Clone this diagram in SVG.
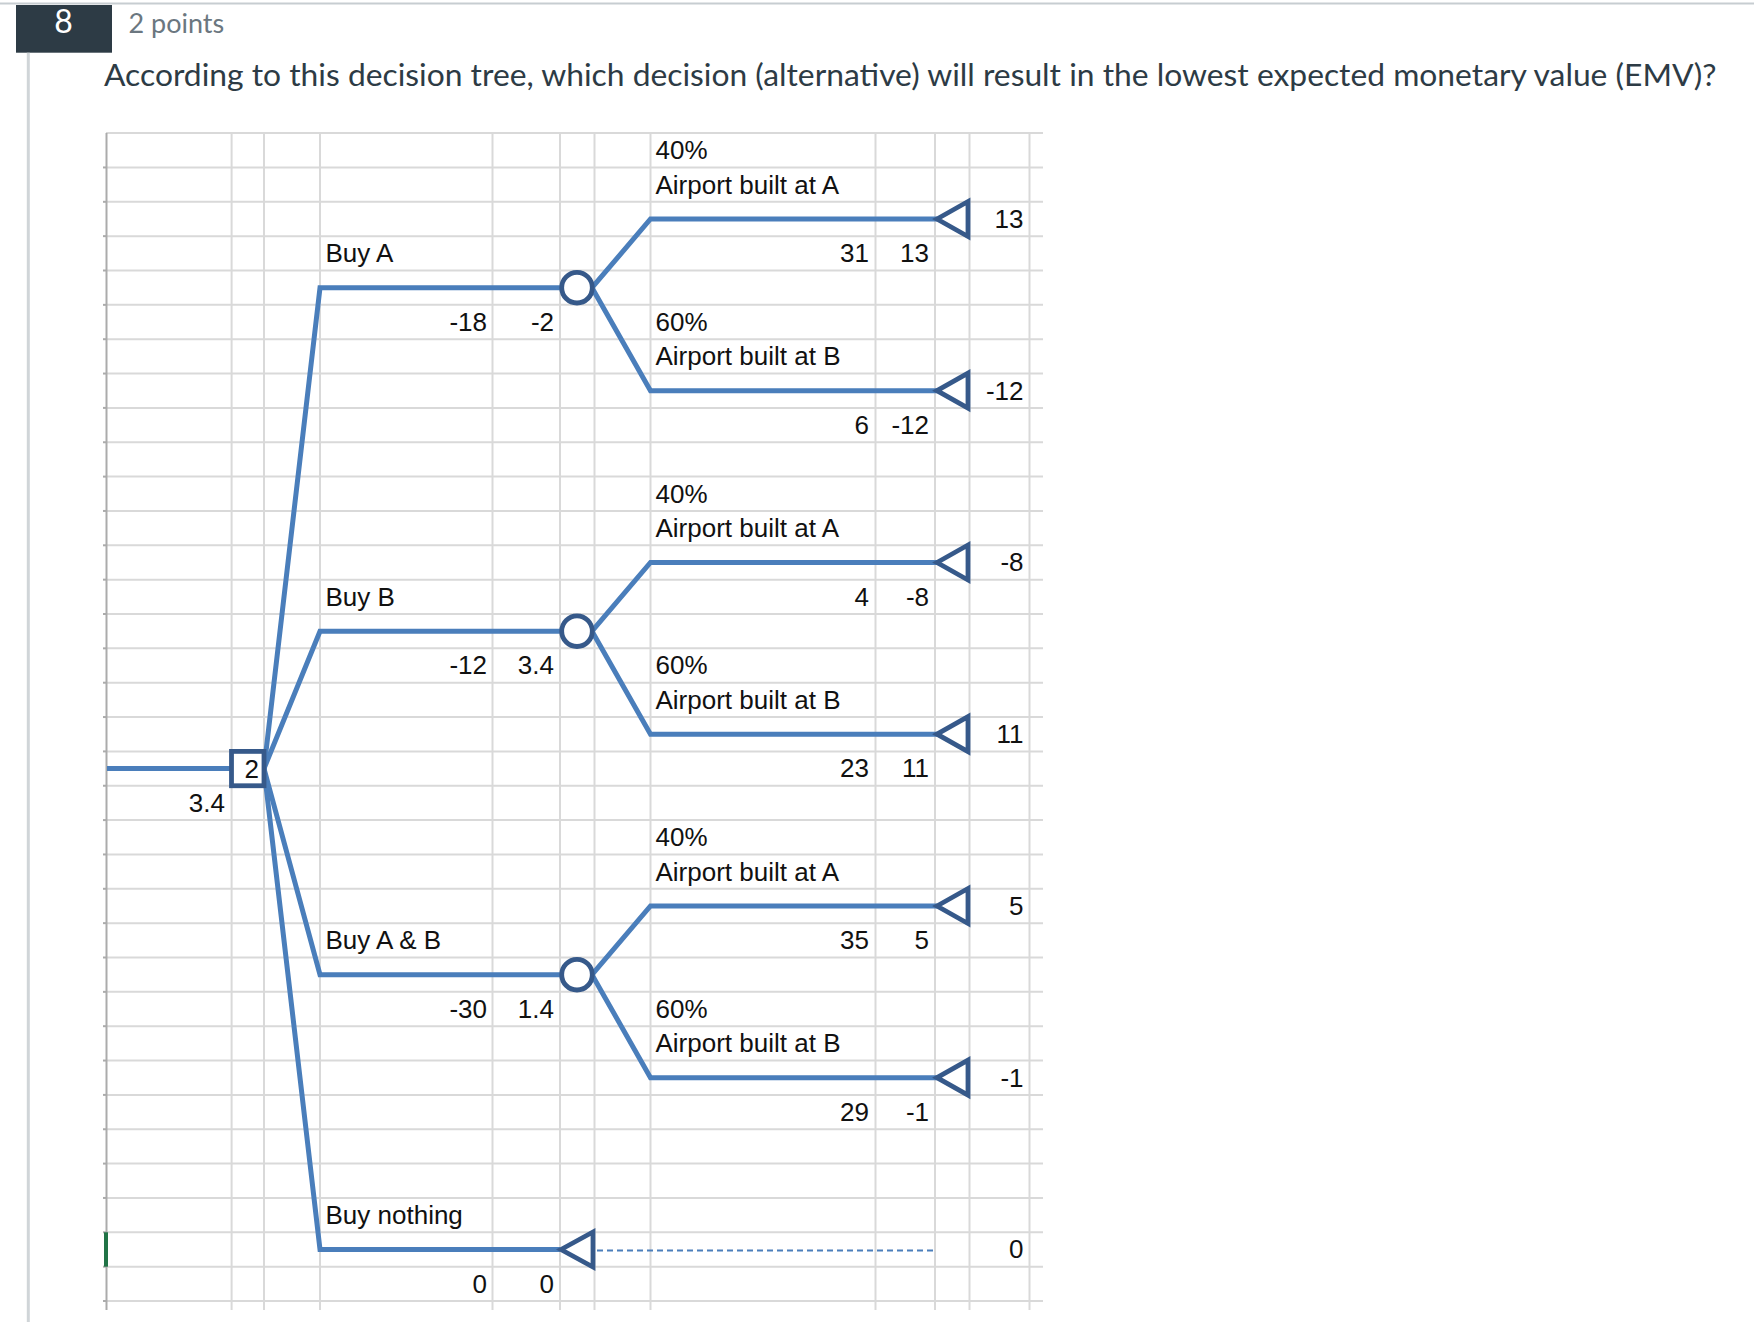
<svg xmlns="http://www.w3.org/2000/svg" width="1754" height="1322" viewBox="0 0 1754 1322">
<style>
.bg{fill:#ffffff}
.gv{stroke:#d9d9d9;stroke-width:2}
.gh{stroke:#d9d9d9;stroke-width:2}
.gb{stroke:#ababab;stroke-width:2}
.br{fill:none;stroke:#4a7ebb;stroke-width:5;stroke-linejoin:miter}
.dash{fill:none;stroke:#4a7ebb;stroke-width:2;stroke-dasharray:6 4}
.nd{fill:#ffffff;stroke:#36598a;stroke-width:4.8;stroke-linejoin:miter}
.t{font-family:"Liberation Sans",Arial,sans-serif;font-size:26px;fill:#111111}
.r{text-anchor:end}
.hd{font-family:Lato,"Liberation Sans",sans-serif}
</style>
<rect class="bg" x="0" y="0" width="1754" height="1322"/>
<g id="header">
<line x1="0" y1="3.5" x2="1754" y2="3.5" stroke="#c7cdd1" stroke-width="2"/>
<rect x="16" y="5" width="96" height="47.7" fill="#2d3b45"/>
<text class="hd" x="63.5" y="33" font-size="32" fill="#ffffff" text-anchor="middle">8</text>
<text class="hd" x="128.5" y="33" font-size="27" fill="#6b7780">2 points</text>
<line x1="28.3" y1="52.7" x2="28.3" y2="1322" stroke="#d0d5d8" stroke-width="3"/>
<text class="hd" x="104" y="86" font-size="31.8" fill="#2d3b45">According to this decision tree, which decision (alternative) will result in the lowest expected monetary value (EMV)?</text>
</g>
<g id="grid">
<g class="gh">
<line x1="106" y1="133.1" x2="1043" y2="133.1"/><line x1="106" y1="167.45" x2="1043" y2="167.45"/><line x1="106" y1="201.8" x2="1043" y2="201.8"/><line x1="106" y1="236.15" x2="1043" y2="236.15"/><line x1="106" y1="270.5" x2="1043" y2="270.5"/><line x1="106" y1="304.85" x2="1043" y2="304.85"/><line x1="106" y1="339.2" x2="1043" y2="339.2"/><line x1="106" y1="373.55" x2="1043" y2="373.55"/><line x1="106" y1="407.9" x2="1043" y2="407.9"/><line x1="106" y1="442.25" x2="1043" y2="442.25"/><line x1="106" y1="476.6" x2="1043" y2="476.6"/><line x1="106" y1="510.95" x2="1043" y2="510.95"/><line x1="106" y1="545.3" x2="1043" y2="545.3"/><line x1="106" y1="579.65" x2="1043" y2="579.65"/><line x1="106" y1="614" x2="1043" y2="614"/><line x1="106" y1="648.35" x2="1043" y2="648.35"/><line x1="106" y1="682.7" x2="1043" y2="682.7"/><line x1="106" y1="717.05" x2="1043" y2="717.05"/><line x1="106" y1="751.4" x2="1043" y2="751.4"/><line x1="106" y1="785.75" x2="1043" y2="785.75"/><line x1="106" y1="820.1" x2="1043" y2="820.1"/><line x1="106" y1="854.45" x2="1043" y2="854.45"/><line x1="106" y1="888.8" x2="1043" y2="888.8"/><line x1="106" y1="923.15" x2="1043" y2="923.15"/><line x1="106" y1="957.5" x2="1043" y2="957.5"/><line x1="106" y1="991.85" x2="1043" y2="991.85"/><line x1="106" y1="1026.2" x2="1043" y2="1026.2"/><line x1="106" y1="1060.55" x2="1043" y2="1060.55"/><line x1="106" y1="1094.9" x2="1043" y2="1094.9"/><line x1="106" y1="1129.25" x2="1043" y2="1129.25"/><line x1="106" y1="1163.6" x2="1043" y2="1163.6"/><line x1="106" y1="1197.95" x2="1043" y2="1197.95"/><line x1="106" y1="1232.3" x2="1043" y2="1232.3"/><line x1="106" y1="1266.65" x2="1043" y2="1266.65"/><line x1="106" y1="1301" x2="1043" y2="1301"/>
</g>
<g class="gv">
<line x1="231.6" y1="133" x2="231.6" y2="1310"/><line x1="264" y1="133" x2="264" y2="1310"/><line x1="320" y1="133" x2="320" y2="1310"/><line x1="492.5" y1="133" x2="492.5" y2="1310"/><line x1="560" y1="133" x2="560" y2="1310"/><line x1="594.5" y1="133" x2="594.5" y2="1310"/><line x1="650.5" y1="133" x2="650.5" y2="1310"/><line x1="875.5" y1="133" x2="875.5" y2="1310"/><line x1="935" y1="133" x2="935" y2="1310"/><line x1="969.5" y1="133" x2="969.5" y2="1310"/><line x1="1029.5" y1="133" x2="1029.5" y2="1310"/>
</g>
<g class="gb">
<line x1="106.5" y1="133" x2="106.5" y2="1310"/>
<line x1="103" y1="167.45" x2="106" y2="167.45"/><line x1="103" y1="201.8" x2="106" y2="201.8"/><line x1="103" y1="236.15" x2="106" y2="236.15"/><line x1="103" y1="270.5" x2="106" y2="270.5"/><line x1="103" y1="304.85" x2="106" y2="304.85"/><line x1="103" y1="339.2" x2="106" y2="339.2"/><line x1="103" y1="373.55" x2="106" y2="373.55"/><line x1="103" y1="407.9" x2="106" y2="407.9"/><line x1="103" y1="442.25" x2="106" y2="442.25"/><line x1="103" y1="476.6" x2="106" y2="476.6"/><line x1="103" y1="510.95" x2="106" y2="510.95"/><line x1="103" y1="545.3" x2="106" y2="545.3"/><line x1="103" y1="579.65" x2="106" y2="579.65"/><line x1="103" y1="614" x2="106" y2="614"/><line x1="103" y1="648.35" x2="106" y2="648.35"/><line x1="103" y1="682.7" x2="106" y2="682.7"/><line x1="103" y1="717.05" x2="106" y2="717.05"/><line x1="103" y1="751.4" x2="106" y2="751.4"/><line x1="103" y1="785.75" x2="106" y2="785.75"/><line x1="103" y1="820.1" x2="106" y2="820.1"/><line x1="103" y1="854.45" x2="106" y2="854.45"/><line x1="103" y1="888.8" x2="106" y2="888.8"/><line x1="103" y1="923.15" x2="106" y2="923.15"/><line x1="103" y1="957.5" x2="106" y2="957.5"/><line x1="103" y1="991.85" x2="106" y2="991.85"/><line x1="103" y1="1026.2" x2="106" y2="1026.2"/><line x1="103" y1="1060.55" x2="106" y2="1060.55"/><line x1="103" y1="1094.9" x2="106" y2="1094.9"/><line x1="103" y1="1129.25" x2="106" y2="1129.25"/><line x1="103" y1="1163.6" x2="106" y2="1163.6"/><line x1="103" y1="1197.95" x2="106" y2="1197.95"/><line x1="103" y1="1232.3" x2="106" y2="1232.3"/><line x1="103" y1="1266.65" x2="106" y2="1266.65"/><line x1="103" y1="1301" x2="106" y2="1301"/>
</g>
<rect x="104" y="1232.3" width="4" height="34.35" fill="#217346"/>
</g>
<g id="connectors">
<path class="br" d="M107 768.6 H231.5"/>
<path class="br" d="M264 768.6 L320 287.7 H562"/>
<path class="br" d="M264 768.6 L320 631.2 H562"/>
<path class="br" d="M264 768.6 L320 974.7 H562"/>
<path class="br" d="M264 768.6 L320 1249.5 H560"/>
<path class="br" d="M592 287.7 L650.5 219 H937"/>
<path class="br" d="M592 287.7 L650.5 390.7 H937"/>
<path class="br" d="M592 631.2 L650.5 562.5 H937"/>
<path class="br" d="M592 631.2 L650.5 734.2 H937"/>
<path class="br" d="M592 974.7 L650.5 906 H937"/>
<path class="br" d="M592 974.7 L650.5 1077.7 H937"/>
<path class="dash" d="M597 1250.5 H935"/>
</g>
<g id="labels">
<text class="t" x="325.5" y="262.2">Buy A</text>
<text class="t" x="325.5" y="605.7">Buy B</text>
<text class="t" x="325.5" y="949.2">Buy A &amp; B</text>
<text class="t" x="325.5" y="1224">Buy nothing</text>
<text class="t r" x="487" y="330.9">-18</text><text class="t r" x="554" y="330.9">-2</text>
<text class="t r" x="487" y="674.4">-12</text><text class="t r" x="554" y="674.4">3.4</text>
<text class="t r" x="487" y="1017.9">-30</text><text class="t r" x="554" y="1017.9">1.4</text>
<text class="t r" x="487" y="1292.7">0</text><text class="t r" x="554" y="1292.7">0</text>
<text class="t" x="655.5" y="159.1">40%</text><text class="t" x="655.5" y="193.5">Airport built at A</text>
<text class="t" x="655.5" y="330.9">60%</text><text class="t" x="655.5" y="365.2">Airport built at B</text>
<text class="t" x="655.5" y="502.6">40%</text><text class="t" x="655.5" y="537">Airport built at A</text>
<text class="t" x="655.5" y="674.4">60%</text><text class="t" x="655.5" y="708.7">Airport built at B</text>
<text class="t" x="655.5" y="846.1">40%</text><text class="t" x="655.5" y="880.5">Airport built at A</text>
<text class="t" x="655.5" y="1017.9">60%</text><text class="t" x="655.5" y="1052.2">Airport built at B</text>
<text class="t r" x="869" y="262.2">31</text><text class="t r" x="929" y="262.2">13</text>
<text class="t r" x="869" y="433.9">6</text><text class="t r" x="929" y="433.9">-12</text>
<text class="t r" x="869" y="605.7">4</text><text class="t r" x="929" y="605.7">-8</text>
<text class="t r" x="869" y="777.4">23</text><text class="t r" x="929" y="777.4">11</text>
<text class="t r" x="869" y="949.2">35</text><text class="t r" x="929" y="949.2">5</text>
<text class="t r" x="869" y="1120.9">29</text><text class="t r" x="929" y="1120.9">-1</text>
</g>
<g id="decision">
<rect class="nd" x="231.5" y="751.4" width="32.5" height="34.35"/>
<text class="t r" x="259" y="778">2</text>
<text class="t r" x="225" y="811.8">3.4</text>
</g>
<g id="chance-a"><circle class="nd" cx="577" cy="287.7" r="15.3"/></g>
<g id="chance-b"><circle class="nd" cx="577" cy="631.2" r="15.3"/></g>
<g id="chance-ab"><circle class="nd" cx="577" cy="974.7" r="15.3"/></g>
<g id="end-a-a"><path class="nd" d="M937 219 L968 201.5 V236.5 Z"/><text class="t r" x="1023.5" y="227.8">13</text></g>
<g id="end-a-b"><path class="nd" d="M937 390.7 L968 373.2 V408.2 Z"/><text class="t r" x="1023.5" y="399.6">-12</text></g>
<g id="end-b-a"><path class="nd" d="M937 562.5 L968 545 V580 Z"/><text class="t r" x="1023.5" y="571.3">-8</text></g>
<g id="end-b-b"><path class="nd" d="M937 734.2 L968 716.7 V751.7 Z"/><text class="t r" x="1023.5" y="743.1">11</text></g>
<g id="end-ab-a"><path class="nd" d="M937 906 L968 888.5 V923.5 Z"/><text class="t r" x="1023.5" y="914.8">5</text></g>
<g id="end-ab-b"><path class="nd" d="M937 1077.7 L968 1060.2 V1095.2 Z"/><text class="t r" x="1023.5" y="1086.6">-1</text></g>
<g id="end-nothing"><path class="nd" d="M561 1249.5 L593 1232 V1267 Z"/><text class="t r" x="1023.5" y="1258.3">0</text></g>
</svg>
